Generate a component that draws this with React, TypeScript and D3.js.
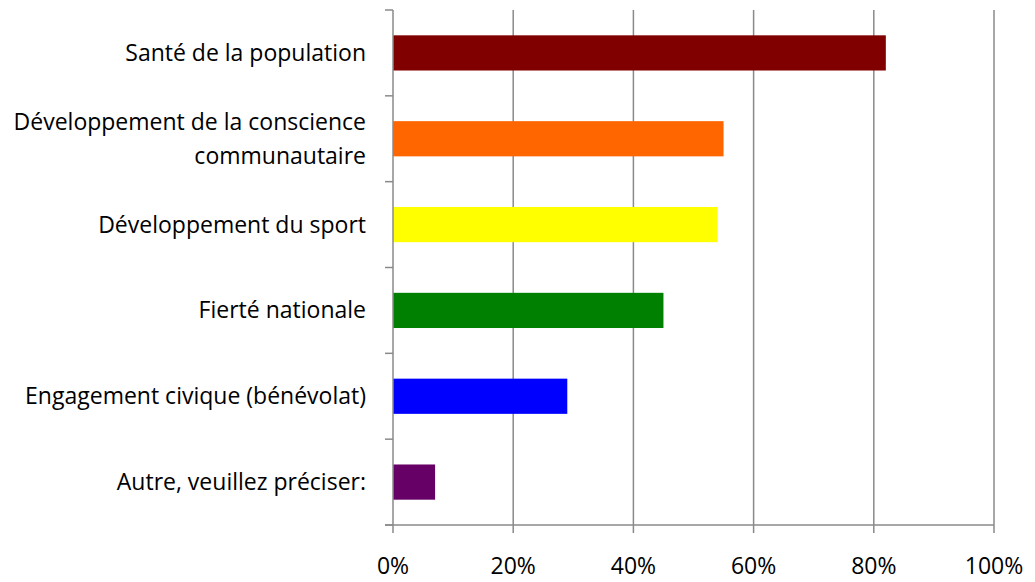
import * as React from "react";
import * as d3 from "d3";

const categories = [
  ["Santé de la population"],
  ["Développement de la conscience", "communautaire"],
  ["Développement du sport"],
  ["Fierté nationale"],
  ["Engagement civique (bénévolat)"],
  ["Autre, veuillez préciser:"],
];
const values = [0.82, 0.55, 0.54, 0.45, 0.29, 0.07];
const colors = ["#800000", "#FF6600", "#FFFF00", "#008000", "#0000FF", "#660066"];
const xTicks = [0, 0.2, 0.4, 0.6, 0.8, 1.0];

const W = 1035, H = 582;
const left = 393, right = 994, top = 10, bottom = 525;
const font = "'Open Sans', sans-serif";
const gridColor = "#8a8a8a";

export default function App() {
  const x = d3.scaleLinear().domain([0, 1]).range([left, right]);
  const y = d3.scaleBand<number>()
    .domain(d3.range(categories.length))
    .range([top, bottom])
    .paddingInner(0.59)
    .paddingOuter(0.295);
  const step = y.step();
  const fmt = d3.format(".0%");

  return (
    <svg width={W} height={H} style={{ position: "absolute", left: 0, top: 0, background: "#fff" }}>
      {/* vertical gridlines */}
      {xTicks.slice(1).map((t) => (
        <line key={"g" + t} x1={x(t)} x2={x(t)} y1={top} y2={bottom + 8} stroke={gridColor} strokeWidth={1.5} />
      ))}
      {/* bars */}
      {values.map((v, i) => (
        <rect key={i} x={x(0)} y={y(i)!} width={x(v) - x(0)} height={y.bandwidth()} fill={colors[i]} />
      ))}
      {/* left axis */}
      <line x1={left} x2={left} y1={top} y2={bottom + 8} stroke={gridColor} strokeWidth={1.5} />
      {d3.range(categories.length + 1).map((i) => (
        <line key={"t" + i} x1={left - 8} x2={left} y1={top + i * step} y2={top + i * step} stroke={gridColor} strokeWidth={1.5} />
      ))}
      {/* bottom axis */}
      <line x1={left - 8} x2={right} y1={bottom} y2={bottom} stroke={gridColor} strokeWidth={1.5} />
      {xTicks.map((t) => (
        <text key={"l" + t} x={x(t)} y={574} textAnchor="middle" fontFamily={font} fontSize={23} fill="#000">
          {fmt(t)}
        </text>
      ))}
      {/* category labels */}
      {categories.map((lines, i) => {
        const cy = y(i)! + y.bandwidth() / 2;
        const lh = 34;
        const y0 = cy - ((lines.length - 1) * lh) / 2;
        return (
          <text key={"c" + i} textAnchor="end" fontFamily={font} fontSize={23} fill="#000">
            {lines.map((s, j) => (
              <tspan key={j} x={366} y={y0 + j * lh} dy="0.35em">{s}</tspan>
            ))}
          </text>
        );
      })}
    </svg>
  );
}
